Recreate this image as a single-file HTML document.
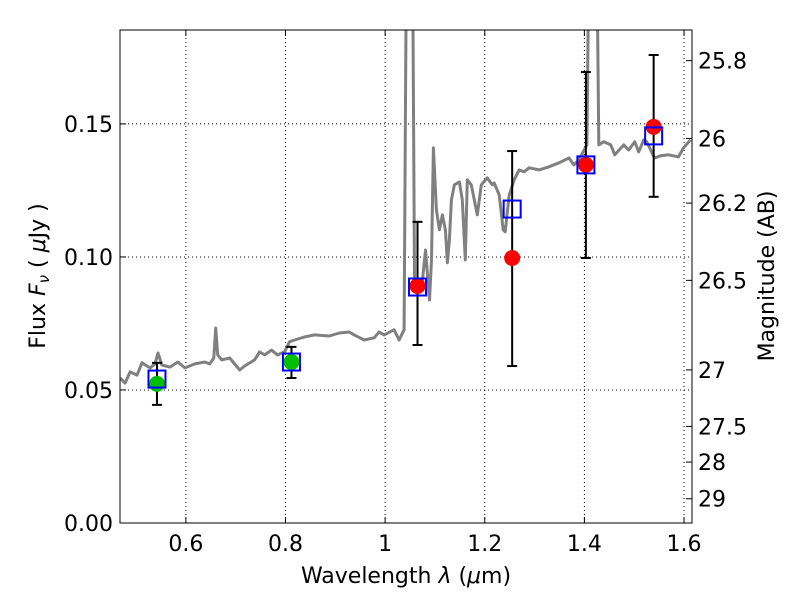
<!DOCTYPE html>
<html><head><meta charset="utf-8"><style>
html,body{margin:0;padding:0;background:#fff}
svg{display:block;font-family:"DejaVu Sans","Liberation Sans",sans-serif}
</style></head><body>
<svg id="chart" width="800" height="600" viewBox="0 0 800 600">
<defs><clipPath id="clip"><rect x="120" y="30" width="572" height="493"/></clipPath></defs>
<rect x="0" y="0" width="800" height="600" fill="#fff"/>
<g id="grid"></g>
<g id="plot" clip-path="url(#clip)"></g>
<g id="marks"></g>
<rect x="120" y="30" width="572" height="493" fill="none" stroke="#000" stroke-width="1"/>
<g id="axes"></g>
<text x="406" y="583" font-size="22" text-anchor="middle">Wavelength  <tspan font-style="italic">λ</tspan> (<tspan font-style="italic">μ</tspan>m)</text>
<text transform="translate(45,276) rotate(-90)" font-size="22" text-anchor="middle">Flux  <tspan font-style="italic">F<tspan font-size="15" dy="4">ν</tspan></tspan><tspan dy="-4">  (  </tspan><tspan font-style="italic">μ</tspan>Jy )</text>
<text transform="translate(774,276) rotate(-90)" font-size="22" text-anchor="middle">Magnitude (AB)</text>
</svg>
<script>
const specWl=[0.468,0.478,0.488,0.502,0.512,0.528,0.538,0.544,0.552,0.568,0.584,0.598,0.618,0.638,0.648,0.656,0.660,0.664,0.672,0.688,0.708,0.718,0.738,0.748,0.758,0.772,0.784,0.798,0.808,0.818,0.838,0.858,0.888,0.908,0.928,0.938,0.958,0.978,0.988,0.998,1.018,1.028,1.038,1.044,1.054,1.059,1.065,1.075,1.081,1.089,1.093,1.097,1.103,1.109,1.115,1.121,1.125,1.129,1.133,1.139,1.149,1.155,1.161,1.165,1.173,1.185,1.193,1.205,1.215,1.219,1.229,1.237,1.241,1.249,1.259,1.269,1.279,1.289,1.309,1.329,1.349,1.369,1.379,1.389,1.405,1.411,1.423,1.429,1.439,1.453,1.461,1.479,1.489,1.501,1.509,1.519,1.525,1.533,1.541,1.553,1.569,1.589,1.599,1.613];
const specFlux=[0.0545,0.0526,0.0568,0.0556,0.0602,0.0583,0.0598,0.0639,0.0594,0.0586,0.0605,0.0583,0.0598,0.0605,0.0598,0.0620,0.0733,0.0632,0.0613,0.0620,0.0575,0.0590,0.0613,0.0643,0.0632,0.0650,0.0632,0.0643,0.0681,0.0688,0.0699,0.0707,0.0703,0.0714,0.0718,0.0707,0.0688,0.0696,0.0718,0.0707,0.0726,0.0688,0.0726,0.25,0.25,0.0914,0.0876,0.0914,0.1026,0.0838,0.0989,0.1410,0.1177,0.1102,0.1158,0.1102,0.0978,0.1064,0.1214,0.1271,0.1282,0.1214,0.0989,0.1290,0.1271,0.1158,0.1271,0.1297,0.1271,0.1278,0.1233,0.1102,0.1094,0.1233,0.1290,0.1327,0.1320,0.1335,0.1327,0.1339,0.1354,0.1372,0.1346,0.1365,0.1421,0.25,0.25,0.1421,0.1433,0.1421,0.1384,0.1421,0.1402,0.1433,0.1395,0.1440,0.1433,0.1402,0.1372,0.1380,0.1384,0.1376,0.1410,0.1440];
const obsWl=[0.542,0.812,1.065,1.255,1.403,1.539];
const obsFlux=[0.0523,0.0605,0.0891,0.0996,0.1346,0.1489];
const obsErrHi=[0.0602,0.0662,0.1132,0.1398,0.1695,0.1759];
const obsErrLo=[0.0444,0.0545,0.0669,0.0590,0.0996,0.1226];
const obsColor=["#00bf00","#00bf00","#ff0000","#ff0000","#ff0000","#ff0000"];
const modelFlux=[0.0541,0.0605,0.0887,0.1180,0.1346,0.1455];
const xTicks=[0.6,0.8,1.0,1.2,1.4,1.6];
const xTickLabels=["0.6","0.8","1","1.2","1.4","1.6"];
const yTicks=[0.00,0.05,0.10,0.15];
const yTickLabels=["0.00","0.05","0.10","0.15"];
const magTicks=[25.8,26,26.2,26.5,27,27.5,28,29];
const magTickLabels=["25.8","26","26.2","26.5","27","27.5","28","29"];

const NS="http://www.w3.org/2000/svg";
const L=120,R=692,T=30,B=523,xmin=0.4678,xmax=1.616,ymin=0,ymax=0.1853;
const X=v=>L+(v-xmin)/(xmax-xmin)*(R-L);
const Y=v=>B-(v-ymin)/(ymax-ymin)*(B-T);
function mk(tag,attrs,parent){const e=document.createElementNS(NS,tag);for(const k in attrs)e.setAttribute(k,attrs[k]);parent.appendChild(e);return e;}
const grid=document.getElementById('grid'),plot=document.getElementById('plot'),marks=document.getElementById('marks'),axes=document.getElementById('axes');

xTicks.forEach((t,i)=>{const x=X(t);
 const g=mk('line',{x1:x,x2:x,y1:T,y2:B,stroke:'#000','stroke-width':1,'stroke-dasharray':'1,3'},grid);
 
 
 mk('line',{x1:x,x2:x,y1:B,y2:B-6,stroke:'#000'},axes);
 mk('line',{x1:x,x2:x,y1:T,y2:T+6,stroke:'#000'},axes);
 const tx=mk('text',{x:x,y:B+28,'font-size':22,'text-anchor':'middle'},axes);tx.textContent=xTickLabels[i];
 
 
});
yTicks.forEach((t,i)=>{const y=Y(t);
 const g=mk('line',{x1:L,x2:R,y1:y,y2:y,stroke:'#000','stroke-width':1,'stroke-dasharray':'1,3'},grid);
 
 
 mk('line',{x1:L,x2:L+6,y1:y,y2:y,stroke:'#000'},axes);
 const tx=mk('text',{x:L-7,y:y+8,'font-size':22,'text-anchor':'end'},axes);tx.textContent=yTickLabels[i];
 
 
});
magTicks.forEach((m,i)=>{const f=Math.pow(10,(23.9-m)/2.5);const y=Y(f);
 mk('line',{x1:R,x2:R-6,y1:y,y2:y,stroke:'#000'},axes);
 const tx=mk('text',{x:R+6,y:y+8,'font-size':22,'text-anchor':'start'},axes);tx.textContent=magTickLabels[i];
 
 
});
const pts=specWl.map((w,i)=>X(w).toFixed(1)+','+Y(specFlux[i]).toFixed(1)).join(' ');
const sp=mk('polyline',{points:pts,fill:'none',stroke:'#808080','stroke-width':3,'stroke-linejoin':'round'},plot);


obsWl.forEach((w,i)=>{const x=X(w);
 const e=mk('g',{},marks);
 
 
 mk('line',{x1:x,x2:x,y1:Y(obsErrHi[i]),y2:Y(obsErrLo[i]),stroke:'#000','stroke-width':2},e);
 mk('line',{x1:x-5,x2:x+5,y1:Y(obsErrHi[i]),y2:Y(obsErrHi[i]),stroke:'#000','stroke-width':2},e);
 mk('line',{x1:x-5,x2:x+5,y1:Y(obsErrLo[i]),y2:Y(obsErrLo[i]),stroke:'#000','stroke-width':2},e);
 const c=mk('circle',{cx:x,cy:Y(obsFlux[i]),r:8,fill:obsColor[i]},marks);
 
 
 const s=mk('rect',{x:x-8.5,y:Y(modelFlux[i])-8.5,width:17,height:17,fill:'none',stroke:'#0000ff','stroke-width':2},marks);
 
 
});
</script>
</body></html>
